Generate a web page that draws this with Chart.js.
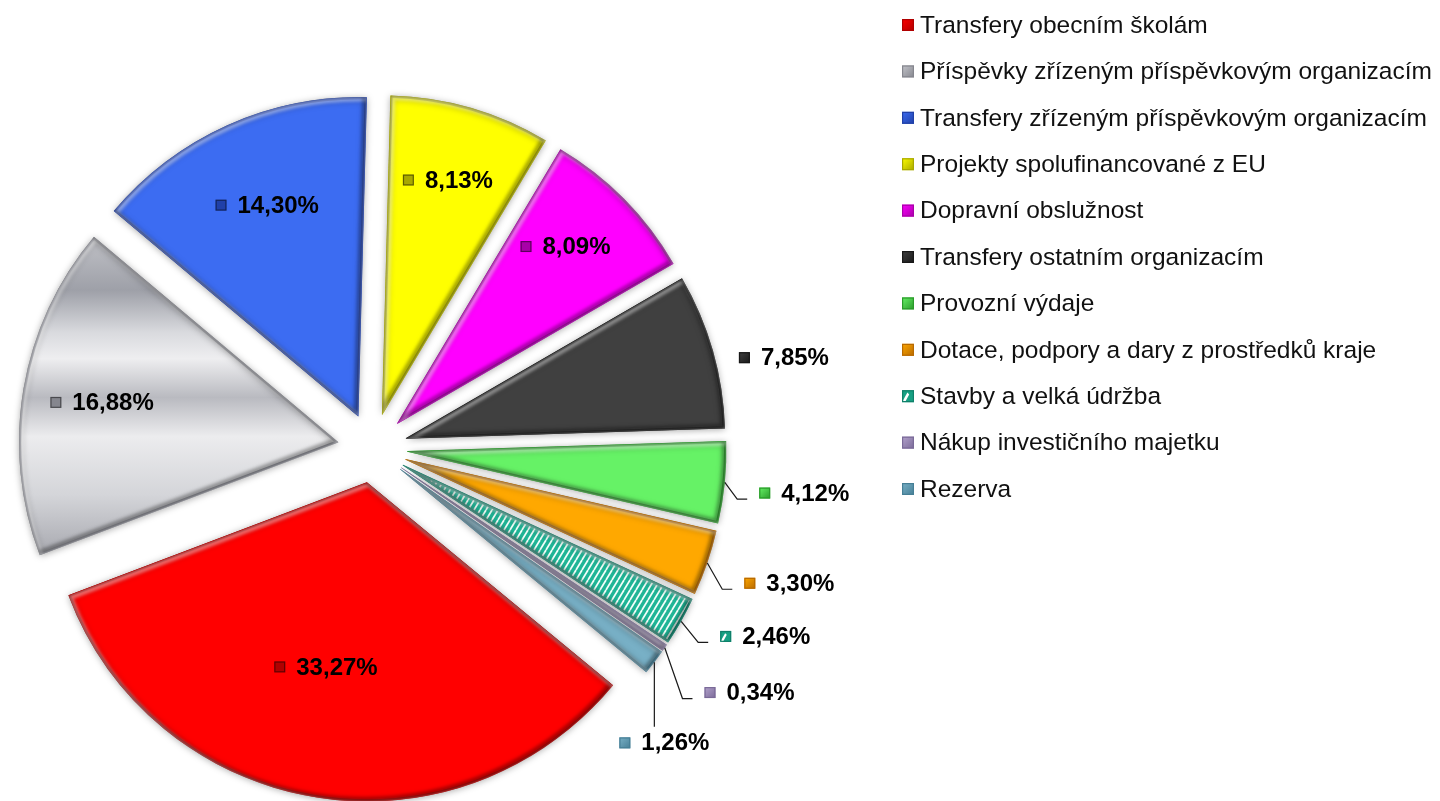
<!DOCTYPE html>
<html>
<head>
<meta charset="utf-8">
<script src="https://cdn.jsdelivr.net/npm/chart.js@4.4.1/dist/chart.umd.min.js"></script>
<style>
html, body { margin: 0; padding: 0; background: #fff; }
#obal { width: 1440px; height: 801px; }
</style>
</head>
<body>
<div id="obal"><canvas id="chartRozpocet"></canvas></div>
<script>
// data
const kategorie = [
    'Transfery obecním školám',
    'Příspěvky zřízeným příspěvkovým organizacím',
    'Transfery zřízeným příspěvkovým organizacím',
    'Projekty spolufinancované z EU',
    'Dopravní obslužnost',
    'Transfery ostatním organizacím',
    'Provozní výdaje',
    'Dotace, podpory a dary z prostředků kraje',
    'Stavby a velká údržba',
    'Nákup investičního majetku',
    'Rezerva'
];
const podily = [33.27, 16.88, 14.30, 8.13, 8.09, 7.85, 4.12, 3.30, 2.46, 0.34, 1.26];

// barvy
const barvy = ['#ff0000', '#c4c5cb', '#3c6cf2', '#ffff00', '#ff00ff', '#404040',
               '#66f266', '#ffa800', '#1fb596', '#b3a2cc', '#78b0c6'];
const okraje = ['#b00000', '#85868e', '#2040a8', '#a8a800', '#a800a8', '#181818',
                '#2a9a2a', '#b86a00', '#0f806a', '#7a6a98', '#467f96'];

// rozlozeni
const OTOCENI = 129.5;       // zacatek prvni vysece (stupne od vrcholu)
const POLOMER = 319;
const ODSUN = 35;            // vysunuti vsech vyseci
const popiskyPosun = [3.1, -0.1, 0.9, -0.5, -1.8, 3.9, 0.4, -1.05, -4, -1.5, 8.8];
const popiskyVzd = [0.592, 0.75, 0.72, 0.763, 0.765, 1.211, 1.251, 1.264, 1.256, 1.299, 1.192];
const sVodici = [0, 0, 0, 0, 0, 0, 1, 1, 1, 1, 1];
const LEG_X = 902, LEG_Y = 25, LEG_KROK = 46.4;
const PISMO = '"Liberation Sans", Arial, sans-serif';

function formatPodil(v) {
    return v.toFixed(2).replace('.', ',') + '%';
}

function vzorStavby() {
    const c = document.createElement('canvas');
    c.width = 6; c.height = 10;
    const g = c.getContext('2d');
    g.fillStyle = '#1fb596';
    g.fillRect(0, 0, 6, 10);
    g.strokeStyle = '#f4fffb';
    g.lineWidth = 1.7;
    for (const dx of [-6, 0, 6]) {
        g.beginPath();
        g.moveTo(dx, 10);
        g.lineTo(dx + 6, 0);
        g.stroke();
    }
    return g.createPattern(c, 'repeat');
}
const vzor = vzorStavby();

function sedyPrechod(ctx, y0, y1) {
    const g = ctx.createLinearGradient(0, y0, 0, y1);
    g.addColorStop(0, '#c2c3c8');
    g.addColorStop(0.17, '#9ea0a8');
    g.addColorStop(0.3, '#d9dade');
    g.addColorStop(0.38, '#eeeef0');
    g.addColorStop(0.5, '#b9bac0');
    g.addColorStop(0.62, '#ececee');
    g.addColorStop(0.8, '#d4d5d9');
    g.addColorStop(1, '#a4a5ac');
    return g;
}

function vypln(context) {
    const i = context.dataIndex;
    if (i === 8) return vzor;
    if (i === 1) {
        const a = context.chart.chartArea;
        if (!a) return barvy[1];
        const cy = (a.top + a.bottom) / 2;
        return sedyPrechod(context.chart.ctx, cy - 213, cy + 112);
    }
    return barvy[i];
}

// maly ctverecek s nadechem 3D
function ctverecek(ctx, x, y, s, i, tmavy) {
    if (i === 8) {
        ctx.fillStyle = '#17a083';
        ctx.fillRect(x, y, s, s);
        ctx.fillStyle = '#ffffff';
        ctx.beginPath();
        ctx.moveTo(x, y + s); ctx.lineTo(x + s * 0.45, y + s * 0.2); ctx.lineTo(x + s * 0.6, y + s * 0.35);
        ctx.lineTo(x + s * 0.25, y + s); ctx.closePath();
        ctx.fill();
    } else {
        const g = ctx.createLinearGradient(x, y, x + s, y + s);
        g.addColorStop(0, tmavy ? okraje[i] : barvy[i]);
        g.addColorStop(1, okraje[i]);
        ctx.fillStyle = g;
        ctx.fillRect(x, y, s, s);
    }
    ctx.strokeStyle = tmavy ? 'rgba(0,0,0,0.45)' : okraje[i];
    ctx.lineWidth = 1.2;
    ctx.strokeRect(x + 0.6, y + 0.6, s - 1.2, s - 1.2);
}

function cestaVysece(ctx, arc, dx, dy) {
    ctx.beginPath();
    ctx.moveTo(arc.x + dx, arc.y + dy);
    ctx.arc(arc.x + dx, arc.y + dy, arc.outerRadius, arc.startAngle, arc.endAngle);
    ctx.closePath();
}

// vysunuti vyseci od stredu + stin + zkoseni hran
const vysunuti = {
    id: 'vysunuti',
    beforeDatasetsDraw(chart) {
        const a = chart.chartArea;
        const cx = (a.left + a.right) / 2, cy = (a.top + a.bottom) / 2;
        chart.getDatasetMeta(0).data.forEach(arc => {
            const pul = (arc.startAngle + arc.endAngle) / 2;
            arc.x = cx + ODSUN * Math.cos(pul);
            arc.y = cy + ODSUN * Math.sin(pul);
        });
    },
    beforeDatasetDraw(chart) {
        const ctx = chart.ctx;
        ctx.shadowColor = 'rgba(0,0,0,0.35)';
        ctx.shadowBlur = 7;
        ctx.shadowOffsetX = 0;
        ctx.shadowOffsetY = 1;
    },
    afterDatasetDraw(chart) {
        const ctx = chart.ctx;
        ctx.shadowColor = 'rgba(0,0,0,0)';
        ctx.shadowBlur = 0;
        ctx.shadowOffsetY = 0;
        chart.getDatasetMeta(0).data.forEach(arc => {
            ctx.save();
            cestaVysece(ctx, arc, 0, 0);
            ctx.clip();
            ctx.filter = 'blur(1.5px)';
            ctx.lineJoin = 'round';
            ctx.lineWidth = 5;
            ctx.strokeStyle = 'rgba(255,255,255,0.4)';
            cestaVysece(ctx, arc, 2, 2);
            ctx.stroke();
            ctx.strokeStyle = 'rgba(0,0,0,0.25)';
            cestaVysece(ctx, arc, -2, -2);
            ctx.stroke();
            ctx.restore();
        });
    }
};

// popisky hodnot
const popisky = {
    id: 'popisky',
    afterDatasetsDraw(chart) {
        const ctx = chart.ctx;
        ctx.save();
        ctx.font = 'bold 24px ' + PISMO;
        ctx.textBaseline = 'middle';
        ctx.textAlign = 'left';
        chart.getDatasetMeta(0).data.forEach((arc, i) => {
            const pul = (arc.startAngle + arc.endAngle) / 2;
            const u = pul + popiskyPosun[i] * Math.PI / 180;
            const r = arc.outerRadius;
            const px = arc.x + popiskyVzd[i] * r * Math.cos(u);
            const py = arc.y + popiskyVzd[i] * r * Math.sin(u);
            const text = formatPodil(podily[i]);
            const sirka = 22 + ctx.measureText(text).width;
            const x0 = px - sirka / 2;

            if (sVodici[i]) {
                const sx = arc.x + r * Math.cos(pul);
                const sy = arc.y + r * Math.sin(pul);
                ctx.strokeStyle = '#1a1a1a';
                ctx.lineWidth = 1.2;
                ctx.beginPath();
                ctx.moveTo(sx, sy);
                if (sx > x0 && sx < x0 + sirka) {
                    ctx.lineTo(sx, py - 16);
                } else {
                    ctx.lineTo(x0 - 22, py + 6);
                    ctx.lineTo(x0 - 12, py + 6);
                }
                ctx.stroke();
            }

            ctverecek(ctx, x0, py - 5.5, 11, i, popiskyVzd[i] < 1);
            ctx.fillStyle = '#000';
            ctx.fillText(text, x0 + 22, py + 1);
        });
        ctx.restore();
    }
};

// legenda vpravo
const legenda = {
    id: 'legenda',
    afterDraw(chart) {
        const ctx = chart.ctx;
        ctx.save();
        ctx.font = '24.5px ' + PISMO;
        ctx.textBaseline = 'middle';
        ctx.textAlign = 'left';
        kategorie.forEach((k, i) => {
            const y = LEG_Y + i * LEG_KROK;
            ctverecek(ctx, LEG_X, y - 6, 12, i, false);
            ctx.fillStyle = '#111';
            ctx.fillText(k, LEG_X + 18, y + 1);
        });
        ctx.restore();
    }
};

new Chart(document.getElementById('chartRozpocet').getContext('2d'), {
    type: 'pie',
    data: {
        labels: kategorie,
        datasets: [{
            data: podily,
            backgroundColor: vypln,
            borderColor: okraje,
            borderWidth: 2,
            borderAlign: 'inner',
            hoverOffset: 0
        }]
    },
    options: {
        responsive: true,
        maintainAspectRatio: false,
        animation: false,
        events: [],
        rotation: OTOCENI,
        radius: POLOMER,
        layout: { padding: { left: 0, right: 695, top: 95, bottom: 0 } },
        plugins: {
            legend: { display: false },
            tooltip: { enabled: false }
        }
    },
    plugins: [vysunuti, popisky, legenda]
});
</script>
</body>
</html>
